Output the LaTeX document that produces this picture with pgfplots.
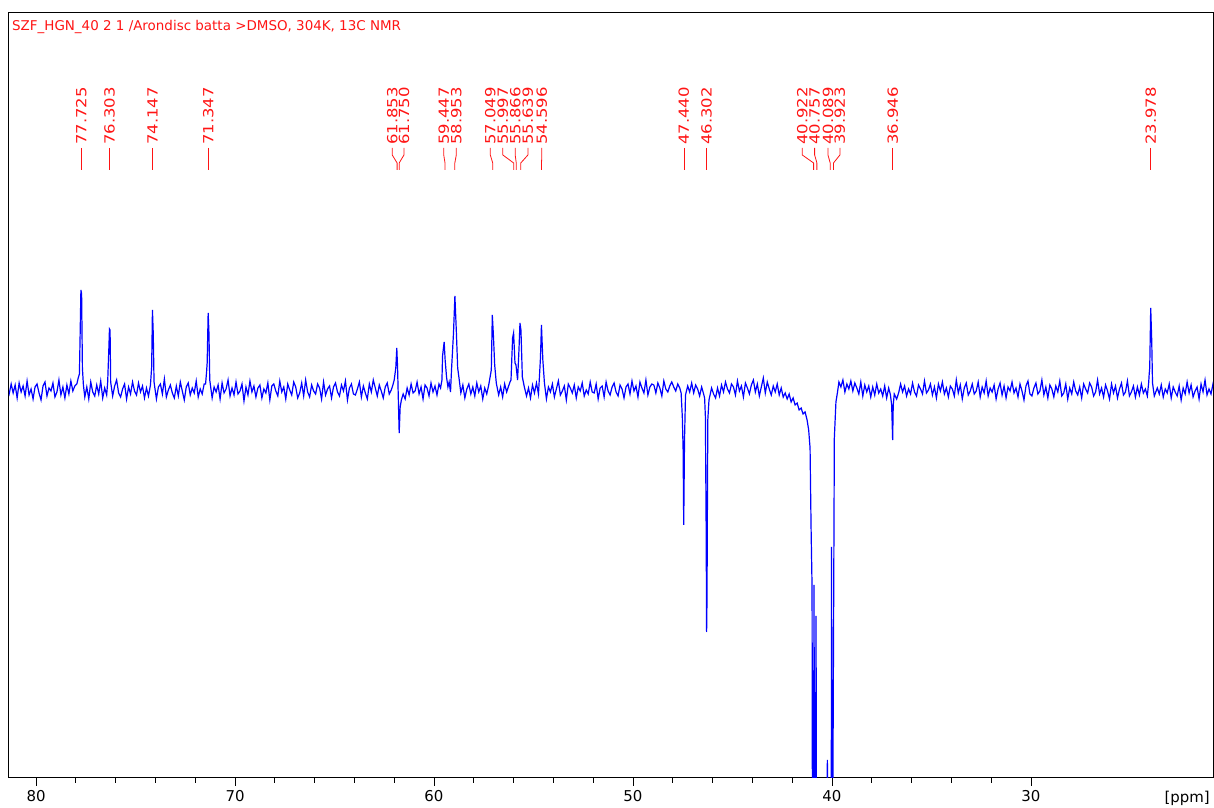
\documentclass[border=0pt]{standalone}
\usepackage{fontspec}
\setmainfont{DejaVu Sans}
\usepackage{pgfplots}
\pgfplotsset{compat=1.18}
\definecolor{specblue}{RGB}{0,0,255}
\definecolor{pkred}{RGB}{255,20,20}
\newcommand\labfont{\fontsize{14}{14}\selectfont}
% peak label: #1 = shift (text and position of the peak), #2 = where the label stands
\newcommand\pk[2]{%
  \draw[pkred, line width=0.8bp] (axis cs:#2,242) -- (axis cs:#2,235) -- (axis cs:#1,227) -- (axis cs:#1,220);
  \node[pkred, rotate=90, anchor=west, inner sep=0pt, font=\labfont] at (axis cs:#2,245) {\scalebox{1.18}[1]{#1}};}

\begin{document}
\begin{tikzpicture}
\begin{axis}[
  name=ax,
  scale only axis,
  width=1204bp, height=765bp,
  x dir=reverse,
  xmin=20.85, xmax=81.36,
  ymin=-388, ymax=377,
  ytick=\empty,
  xtick={30,40,50,60,70,80},
  minor x tick num=4,
  xtick pos=left,
  tick align=outside,
  major tick length=8bp,
  minor tick length=5bp,
  axis line style={line width=1bp},
  every tick/.style={black, line width=0.8bp},
  /pgf/number format/assume math mode=true,
  tick label style={font=\fontsize{15}{15}\selectfont},
  xticklabel style={inner sep=1bp, yshift=-3bp},
]
\addplot[specblue, line width=1.2bp] coordinates {
(81.45,2)(81.35,-4)(81.25,6)(81.15,-3)(81.05,5)
(80.95,-8)(80.85,7)(80.75,-2)(80.65,4)(80.55,-6)(80.45,9)(80.35,-5)(80.25,1)(80.15,-9)(80.05,3)
(79.95,6)(79.85,-3)(79.75,-10)(79.65,4)(79.55,8)(79.45,-6)(79.35,2)(79.25,-1)(79.15,7)(79.05,-7)
(78.95,-2)(78.85,10)(78.75,-5)(78.65,3)(78.55,-8)(78.45,5)(78.35,-4)(78.25,9)(78.15,-1)(78.05,4)
(77.95,6)(77.88,12)(77.82,16)(77.78,60)(77.745,100)(77.71,96)(77.67,22)(77.62,5)(77.55,-7)(77.45,3)(77.35,-9)(77.25,8)(77.15,-2)(77.05,-6)
(76.95,5)(76.85,-4)(76.75,9)(76.65,-8)(76.55,2)(76.45,-5)(76.40,8)(76.34,42)(76.31,61)(76.28,60)(76.25,8)(76.15,-6)(76.05,4)
(75.95,10)(75.85,-3)(75.75,-7)(75.65,1)(75.55,6)(75.45,-9)(75.35,3)(75.25,-4)(75.15,8)(75.05,-1)
(74.95,-5)(74.85,7)(74.75,-2)(74.65,4)(74.55,-8)(74.45,2)(74.35,-6)(74.25,5)(74.19,23)(74.15,80)(74.11,57)(74.07,8)
(73.95,-9)(73.85,3)(73.75,6)(73.65,-4)(73.55,11)(73.45,-7)(73.35,0)(73.25,5)(73.15,-3)(73.05,-8)
(72.95,4)(72.85,-6)(72.75,8)(72.65,-1)(72.55,-10)(72.45,3)(72.35,7)(72.25,-5)(72.15,2)(72.05,-3)
(71.95,9)(71.85,-7)(71.75,1)(71.65,-4)(71.55,6)(71.48,6)(71.43,18)(71.40,27)(71.35,77)(71.31,57)(71.27,10)(71.15,-8)(71.05,3)
(70.95,-2)(70.85,5)(70.75,-9)(70.65,7)(70.55,-3)(70.45,1)(70.35,10)(70.25,-6)(70.15,2)(70.05,-5)
(69.95,8)(69.85,-4)(69.75,-1)(69.65,6)(69.55,-11)(69.45,3)(69.35,-5)(69.25,9)(69.15,-2)(69.05,4)
(68.95,-7)(68.85,2)(68.75,5)(68.65,-8)(68.55,1)(68.45,-3)(68.35,7)(68.25,-10)(68.15,4)(68.05,6)
(67.95,-1)(67.85,-6)(67.75,9)(67.65,-2)(67.55,3)(67.45,-9)(67.35,6)(67.25,0)(67.15,-5)(67.05,8)
(66.95,3)(66.85,-8)(66.75,-3)(66.65,7)(66.55,-6)(66.45,10)(66.35,-2)(66.25,-7)(66.15,5)(66.05,-1)
(65.95,-4)(65.85,6)(65.75,2)(65.65,-9)(65.55,8)(65.45,-5)(65.35,1)(65.25,4)(65.15,-8)(65.05,3)
(64.95,7)(64.85,-2)(64.75,-6)(64.65,5)(64.55,-1)(64.45,9)(64.35,-10)(64.25,2)(64.15,6)(64.05,-4)
(63.95,-5)(63.85,1)(63.75,8)(63.65,-7)(63.55,4)(63.45,-3)(63.35,-9)(63.25,6)(63.15,-2)(63.05,10)
(62.95,2)(62.85,-6)(62.75,5)(62.65,-1)(62.55,-8)(62.45,3)(62.35,7)(62.25,-4)(62.15,0)(62.08,4)(62.00,10)(61.92,22)(61.87,42)(61.83,22)(61.80,-3)(61.75,-43)(61.70,-17)(61.64,-10)(61.55,-4)(61.45,-9)(61.35,2)(61.25,-5)(61.15,6)(61.05,-3)
(60.95,-1)(60.85,8)(60.75,-4)(60.65,3)(60.55,-9)(60.45,5)(60.35,2)(60.25,-6)(60.15,7)(60.05,-2)
(59.95,4)(59.85,-5)(59.75,6)(59.67,2)(59.60,10)(59.57,34)(59.49,48)(59.44,30)(59.37,13)(59.30,3)(59.24,8)(59.17,-2)(59.12,20)(59.02,57)(58.95,94)(58.88,60)(58.81,22)(58.73,10)
(58.65,-3)(58.55,5)(58.45,-8)(58.35,1)(58.25,6)(58.15,-4)(58.05,3)
(57.95,-6)(57.85,7)(57.75,-2)(57.65,4)(57.55,-9)(57.45,2)(57.35,-4)(57.25,5)(57.12,20)(57.07,75)(57.02,57)(56.95,25)(56.87,7)
(56.75,-5)(56.65,3)(56.55,-7)(56.45,6)(56.35,-2)(56.25,4)(56.18,8)(56.13,10)(56.05,52)(56.00,57)(55.93,27)(55.88,25)(55.80,10)(55.73,40)(55.68,67)(55.63,60)(55.56,13)(55.46,3)
(55.35,-6)(55.25,2)(55.15,-8)(55.05,5)(54.95,-3)(54.85,7)(54.75,-4)(54.71,10)(54.65,32)(54.60,65)(54.53,30)(54.45,7)
(54.35,-9)(54.25,3)(54.15,-2)(54.05,6)
(53.95,-7)(53.85,1)(53.75,9)(53.65,-5)(53.55,-1)(53.45,4)(53.35,-10)(53.25,6)(53.15,2)(53.05,-3)
(52.95,5)(52.85,-8)(52.75,3)(52.65,-1)(52.55,7)(52.45,-6)(52.35,0)(52.25,-4)(52.15,8)(52.05,-2)
(51.95,-3)(51.85,6)(51.75,-9)(51.65,2)(51.55,4)(51.45,-7)(51.35,8)(51.25,-1)(51.15,-5)(51.05,3)
(50.95,7)(50.85,-2)(50.75,-6)(50.65,5)(50.55,1)(50.45,-8)(50.35,3)(50.25,6)(50.15,-4)(50.05,9)
(49.95,-1)(49.85,4)(49.75,-7)(49.65,8)(49.55,2)(49.45,-3)(49.35,10)(49.25,-5)(49.15,3)(49.05,6)
(48.95,5)(48.85,-3)(48.75,7)(48.65,2)(48.55,-6)(48.45,9)(48.35,1)(48.25,-2)(48.15,4)(48.05,8)
(47.95,3)(47.85,-1)(47.75,6)(47.65,2)(47.58,-3)(47.52,-27)(47.48,-60)(47.45,-135)(47.41,-50)(47.36,-5)(47.25,4)(47.15,-2)(47.05,7)
(46.95,-3)(46.85,5)(46.75,1)(46.65,-6)(46.55,3)(46.45,-4)(46.40,-8)(46.36,-27)(46.32,-147)(46.30,-242)(46.28,-210)(46.24,-30)(46.18,-10)(46.05,2)
(45.95,-4)(45.85,-8)(45.75,2)(45.65,-6)(45.55,5)(45.45,-2)(45.35,8)(45.25,1)(45.15,-3)(45.05,6)
(44.95,3)(44.85,-5)(44.75,9)(44.65,-1)(44.55,4)(44.45,-7)(44.35,7)(44.25,2)(44.15,-4)(44.05,5)
(43.95,10)(43.85,-2)(43.75,6)(43.65,-6)(43.55,3)(43.45,12)(43.35,-3)(43.25,8)(43.15,1)(43.05,-5)
(42.95,4)(42.85,-2)(42.75,6)(42.65,-5)(42.55,2)(42.45,-7)(42.35,-3)(42.25,-9)(42.15,-4)(42.05,-12)
(41.95,-8)(41.85,-15)(41.75,-13)(41.65,-20)(41.55,-18)(41.45,-24)(41.35,-22)(41.25,-30)(41.17,-40)(41.10,-58)(41.05,-137)(41.00,-197)(40.96,-700)(40.90,-195)(40.86,-700)(40.80,-226)(40.75,-700)(40.40,-700)(40.23,-370)(40.15,-700)(40.05,-700)(40.02,-157)(39.99,-700)(39.94,-337)(39.88,-48)(39.80,-12)(39.72,-2)
(39.65,8)(39.55,3)(39.45,10)(39.35,-2)(39.25,6)(39.15,1)(39.05,9)
(38.95,-1)(38.85,7)(38.75,2)(38.65,-4)(38.55,8)(38.45,-6)(38.35,5)(38.25,-2)(38.15,4)(38.05,-7)
(37.95,3)(37.85,-5)(37.75,6)(37.65,-3)(37.55,1)(37.45,-6)(37.35,4)(37.25,-8)(37.15,2)(37.06,-5)(37.00,-15)(36.95,-50)(36.92,-15)(36.87,-4)(36.75,-9)(36.65,-3)(36.55,6)(36.45,-2)(36.35,4)(36.25,-6)(36.15,1)(36.05,-4)
(35.95,7)(35.85,-2)(35.75,-6)(35.65,5)(35.55,1)(35.45,-4)(35.35,9)(35.25,-3)(35.15,0)(35.05,6)
(34.95,-5)(34.85,3)(34.75,-8)(34.65,6)(34.55,-1)(34.45,8)(34.35,-4)(34.25,2)(34.15,-7)(34.05,4)
(33.95,1)(33.85,-6)(33.75,10)(33.65,-3)(33.55,5)(33.45,-9)(33.35,2)(33.25,7)(33.15,-5)(33.05,-1)
(32.95,6)(32.85,-4)(32.75,-1)(32.65,8)(32.55,-7)(32.45,3)(32.35,-3)(32.25,9)(32.15,-6)(32.05,2)
(31.95,-2)(31.85,5)(31.75,-9)(31.65,1)(31.55,7)(31.45,-5)(31.35,4)(31.25,-8)(31.15,3)(31.05,-1)
(30.95,8)(30.85,-3)(30.75,2)(30.65,-7)(30.55,6)(30.45,-1)(30.35,-10)(30.25,4)(30.15,9)(30.05,-4)
(29.95,-6)(29.85,2)(29.75,7)(29.65,-4)(29.55,-1)(29.45,10)(29.35,-5)(29.25,3)(29.15,-8)(29.05,5)
(28.95,1)(28.85,-7)(28.75,4)(28.65,-2)(28.55,9)(28.45,-6)(28.35,-3)(28.25,6)(28.15,-9)(28.05,2)
(27.95,-4)(27.85,8)(27.75,-1)(27.65,-5)(27.55,3)(27.45,-8)(27.35,6)(27.25,1)(27.15,-3)(27.05,7)
(26.95,3)(26.85,-6)(26.75,-2)(26.65,10)(26.55,-4)(26.45,2)(26.35,-7)(26.25,5)(26.15,-1)(26.05,-9)
(25.95,6)(25.85,-3)(25.75,4)(25.65,-8)(25.55,1)(25.45,7)(25.35,-5)(25.25,-2)(25.15,9)(25.05,-6)
(24.95,-2)(24.85,4)(24.75,-7)(24.65,3)(24.55,-5)(24.45,6)(24.35,-3)(24.25,1)(24.15,-6)(24.08,8)(24.06,15)(24.03,22)(23.98,82)(23.93,50)(23.89,7)(23.80,-6)
(23.65,2)(23.55,-4)(23.45,5)(23.35,-7)(23.25,1)(23.15,-3)(23.05,6)
(22.95,-8)(22.85,3)(22.75,-2)(22.65,-6)(22.55,4)(22.45,-10)(22.35,2)(22.25,-4)(22.15,8)(22.05,-3)
(21.95,5)(21.85,-7)(21.75,-1)(21.65,3)(21.55,-9)(21.45,6)(21.35,-2)(21.25,10)(21.15,-5)(21.05,1)
(20.95,-4)(20.85,6)(20.75,-2)
};
\node[pkred, anchor=base west, inner sep=0pt, font=\fontsize{13.5}{13.5}\selectfont, xshift=3bp, yshift=-18bp]
  at (rel axis cs:0,1) {SZF\_HGN\_40 2 1 /Arondisc batta >DMSO, 304K, 13C NMR};
\pk{77.725}{77.725}
\pk{76.303}{76.303}
\pk{74.147}{74.147}
\pk{71.347}{71.347}
\pk{61.853}{62.10}
\pk{61.750}{61.51}
\pk{59.447}{59.51}
\pk{58.953}{58.88}
\pk{57.049}{57.17}
\pk{55.997}{56.54}
\pk{55.866}{55.92}
\pk{55.639}{55.28}
\pk{54.596}{54.58}
\pk{47.440}{47.440}
\pk{46.302}{46.302}
\pk{40.922}{41.49}
\pk{40.757}{40.87}
\pk{40.089}{40.20}
\pk{39.923}{39.60}
\pk{36.946}{36.946}
\pk{23.978}{23.978}
\end{axis}
\node[anchor=base east, inner sep=0pt, font=\fontsize{15}{15}\selectfont]
  at ([xshift=-3bp, yshift=-24bp]ax.south east) {[ppm]};
\pgfresetboundingbox
\path ([xshift=-9bp, yshift=-30bp]ax.south west) rectangle ([xshift=1bp, yshift=13bp]ax.north east);
\end{tikzpicture}
\end{document}
